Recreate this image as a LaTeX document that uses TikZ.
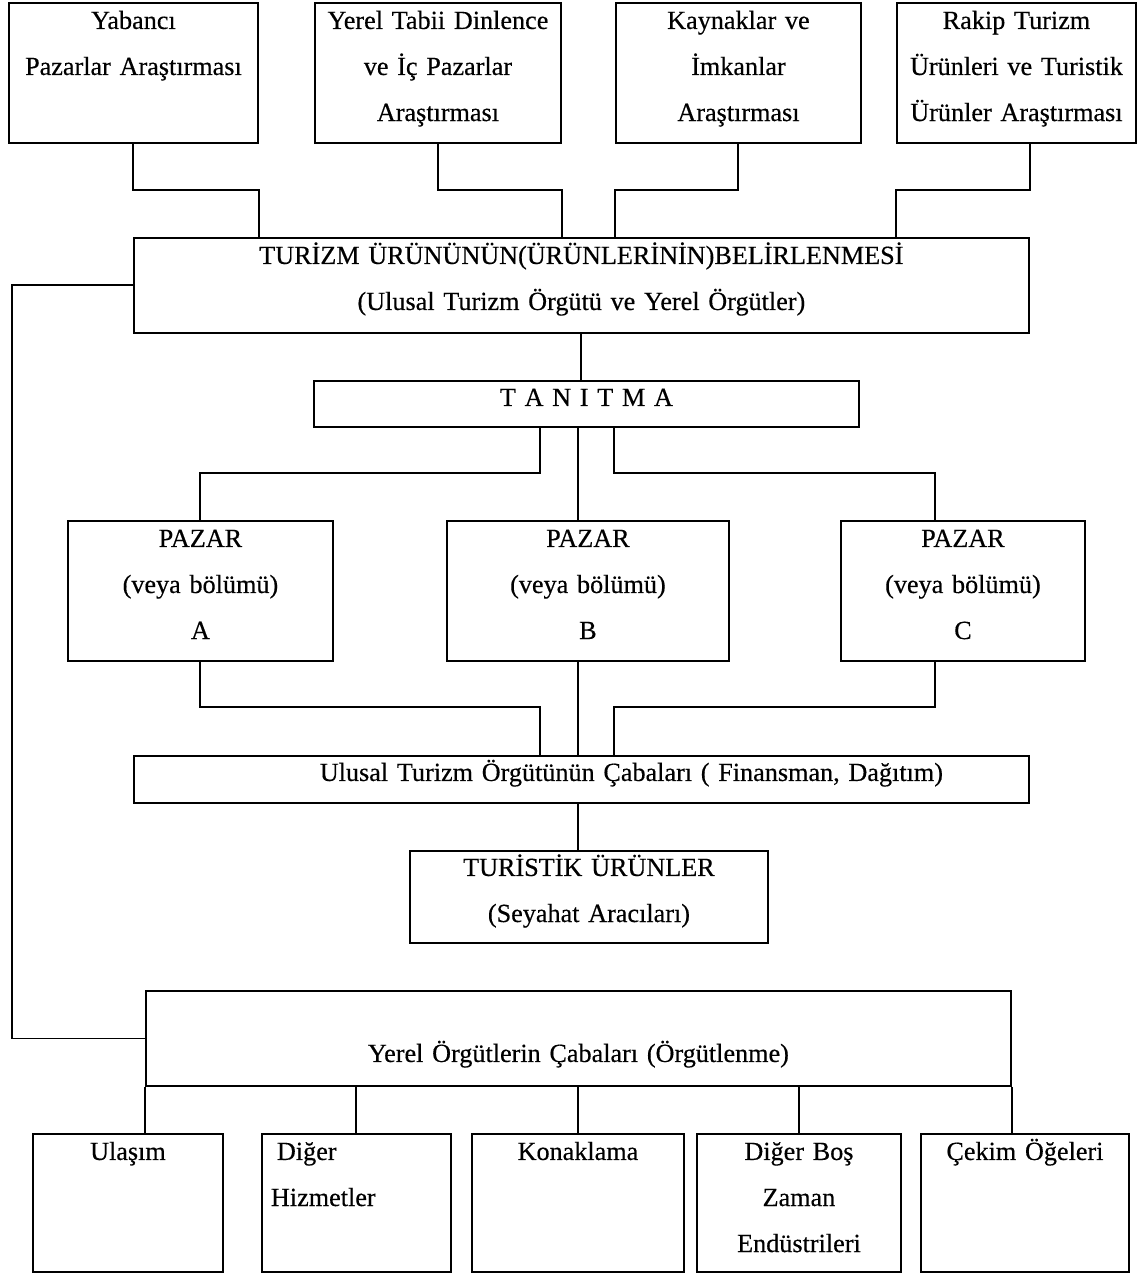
\documentclass[tikz,border=0pt]{standalone}
\usepackage{fontspec}
\setmainfont[FakeBold=0.4]{Liberation Serif}
\tikzset{
    kutu/.style={draw, line width=1.1pt, inner sep=0pt, anchor=north west, align=center,
        text height=0.52cm, font=\fontsize{14.9}{26.2}\selectfont},
    hat/.style={line width=1.1pt},
}

\begin{document}
\begin{tikzpicture}[x=0.02cm, y=-0.02cm]
    \useasboundingbox (0,0) rectangle (1137,1273);
    \node (yabanci) [kutu, text width=4.98cm, text depth=2.28cm] at (8,2) {Yabancı\\Pazarlar Araştırması};
    \node (yerelpazar) [kutu, text width=4.92cm, text depth=2.28cm] at (314,2) {Yerel Tabii Dinlence\\ve İç Pazarlar\\Araştırması};
    \node (kaynak) [kutu, text width=4.90cm, text depth=2.28cm] at (615,2) {Kaynaklar ve\\İmkanlar\\Araştırması};
    \node (rakip) [kutu, text width=4.78cm, text depth=2.28cm] at (896,2) {Rakip Turizm\\Ürünleri ve Turistik\\Ürünler Araştırması};
    \node (turizm) [kutu, text width=17.9cm, text depth=1.38cm] at (133,237) {TURİZM ÜRÜNÜNÜN(ÜRÜNLERİNİN)BELİRLENMESİ\\(Ulusal Turizm Örgütü ve Yerel Örgütler)};
    \node (tanitma) [kutu, text width=10.9cm, text height=0.50cm, text depth=0.42cm] at (313,380) {T A N I T M A};
    \node (pazarA) [kutu, text width=5.30cm, text depth=2.28cm] at (67,520) {PAZAR\\(veya bölümü)\\A};
    \node (pazarB) [kutu, text width=5.64cm, text depth=2.28cm] at (446,520) {PAZAR\\(veya bölümü)\\B};
    \node (pazarC) [kutu, text width=4.88cm, text depth=2.28cm] at (840,520) {PAZAR\\(veya bölümü)\\C};
    \node (ulusal) [kutu, text width=17.9cm, text height=0.50cm, text depth=0.44cm] at (133,755) {\hspace*{2cm}Ulusal Turizm Örgütünün Çabaları ( Finansman, Dağıtım)};
    \node (turistik) [kutu, text width=7.16cm, text height=0.50cm, text depth=1.34cm] at (409,850) {TURİSTİK ÜRÜNLER\\(Seyahat Aracıları)};
    \node (yerel) [kutu, text width=17.3cm, text height=1.42cm, text depth=0.48cm] at (145,990) {Yerel Örgütlerin Çabaları (Örgütlenme)};
    \node (ulasim) [kutu, text width=3.80cm, text depth=2.24cm] at (32,1133) {Ulaşım};
    \node (hizmet) [kutu, align=left, inner xsep=0.18cm, text width=3.42cm, text depth=2.24cm] at (261,1133) {\hspace*{0.12cm}Diğer\\Hizmetler};
    \node (konak) [kutu, text width=4.24cm, text depth=2.24cm] at (471,1133) {Konaklama};
    \node (boszaman) [kutu, text width=4.08cm, text depth=2.24cm] at (696,1133) {Diğer Boş\\Zaman\\Endüstrileri};
    \node (cekim) [kutu, text width=4.16cm, text depth=2.24cm] at (920,1133) {Çekim Öğeleri};

    \draw [hat] (yabanci.south) -- (yabanci.south |- 0,190) -| (yabanci.south east |- turizm.north);
    \draw [hat] (yerelpazar.south) -- (yerelpazar.south |- 0,190) -| (yerelpazar.south east |- turizm.north);
    \draw [hat] (kaynak.south) -- (kaynak.south |- 0,190) -| (kaynak.south west |- turizm.north);
    \draw [hat] (turizm.north east |- rakip.south) -- (turizm.north east |- 0,190) -| (rakip.south west |- turizm.north);
    \draw [hat] (turizm.west) -- ++(-121,0) |- (yerel.west);
    \draw [hat] (turizm.south) -- (turizm.south |- tanitma.north);
    \draw [hat] (tanitma.south -| 540,0) -- (540,473) -| (pazarA.north);
    \draw [hat] (tanitma.south -| 578,0) -- (pazarB.north -| 578,0);
    \draw [hat] (tanitma.south -| 614,0) -- (614,473) -| (pazarC.north -| 935,0);
    \draw [hat] (pazarA.south) -- (pazarA.south |- 0,707) -| (ulusal.north -| 540,0);
    \draw [hat] (pazarB.south -| 578,0) -- (ulusal.north -| 578,0);
    \draw [hat] (pazarC.south -| 935,0) -- (935,707) -| (ulusal.north -| 614,0);
    \draw [hat] (ulusal.south -| 578,0) -- (turistik.north -| 578,0);
    \draw [hat] (yerel.south west) -- (ulasim.north -| yerel.south west);
    \draw [hat] (yerel.south -| hizmet.north) -- (hizmet.north);
    \draw [hat] (yerel.south -| konak.north) -- (konak.north);
    \draw [hat] (yerel.south -| boszaman.north) -- (boszaman.north);
    \draw [hat] (yerel.south east) -- (cekim.north -| yerel.south east);
\end{tikzpicture}
\end{document}
